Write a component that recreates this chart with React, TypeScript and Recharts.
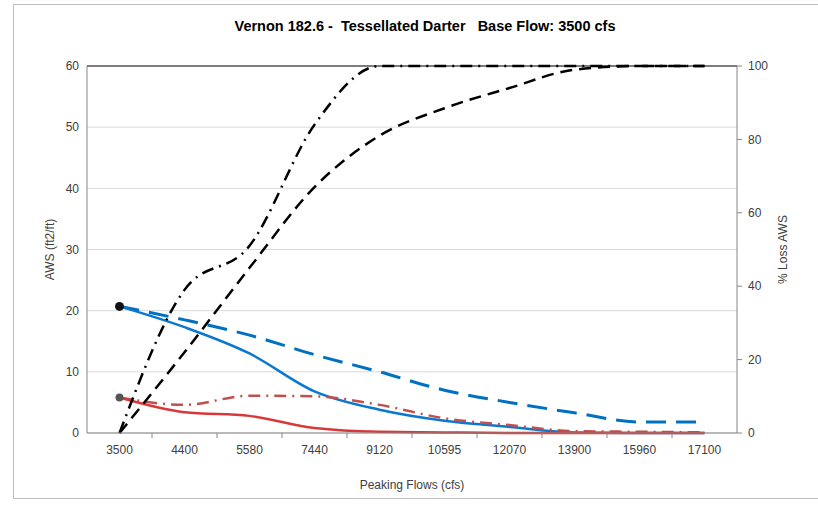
import { LineChart, Line, XAxis, YAxis, CartesianGrid, ReferenceLine } from 'recharts';

const FLOWS = ['3500', '4400', '5580', '7440', '9120', '10595', '12070', '13900', '15960', '17100'];

// AWS (ft2/ft), left axis
const BLUE_SOLID = [20.7, 17.3, 13.0, 6.8, 3.8, 2.0, 1.0, 0.1, 0, 0];
const BLUE_DASHED = [20.7, 18.5, 16.0, 12.8, 10.0, 7.0, 5.0, 3.3, 1.8, 1.8];
const RED_SOLID = [5.8, 3.4, 2.8, 0.8, 0.2, 0.1, 0, 0, 0, 0];
const RED_DASHDOT = [5.8, 4.6, 6.1, 6.0, 4.6, 2.4, 1.3, 0.3, 0.2, 0.1];

// % loss AWS, right axis
const BLACK_DASHED = [0, 22, 45, 67, 81, 88.5, 94, 99, 100, 100];
const BLACK_DASHDOT = [0, 39, 51, 84, 100, 100, 100, 100, 100, 100];

const LEFT_TICKS = [0, 10, 20, 30, 40, 50, 60];
const RIGHT_TICKS = [0, 20, 40, 60, 80, 100];

const data = FLOWS.map((flow, i) => ({
  flow,
  blueSolid: BLUE_SOLID[i],
  blueDashed: BLUE_DASHED[i],
  redSolid: RED_SOLID[i],
  redDashDot: RED_DASHDOT[i],
  blackDashed: BLACK_DASHED[i],
  blackDashDot: BLACK_DASHDOT[i],
}));

const FONT = '"Liberation Sans", Arial, sans-serif';
const TICK = { fill: '#404040', fontSize: 12, fontFamily: FONT };

const firstDot = (fill: string, r: number) => (props: any) => {
  const { cx, cy, index } = props;
  if (index !== 0) return <g key={`d${index}`} />;
  return <circle key={`d${index}`} cx={cx} cy={cy} r={r} fill={fill} stroke="none" />;
};

// category label plus Excel-style tick mark between categories
function FlowTick(props: any) {
  const { x, y, payload, index } = props;
  return (
    <g>
      <text x={x} y={y} dy="0.71em" textAnchor="middle" {...TICK}>
        {payload.value}
      </text>
      {index < FLOWS.length - 1 && (
        <line x1={x + 32.5} x2={x + 32.5} y1={y - 12} y2={y - 7} stroke="#868686" />
      )}
    </g>
  );
}

export default function App() {
  return (
    <div style={{ position: 'absolute', left: 0, top: 0, width: 818, height: 506, background: '#fff', fontFamily: FONT }}>
      <div
        style={{
          position: 'absolute',
          left: 13,
          top: 4,
          width: 810,
          height: 495,
          border: '1px solid #bfbfbf',
          boxSizing: 'border-box',
        }}
      />
      <div
        style={{
          position: 'absolute',
          left: 0,
          top: 18,
          width: 850,
          textAlign: 'center',
          fontWeight: 'bold',
          fontSize: 14.5,
          color: '#000',
          whiteSpace: 'pre',
        }}
      >
        {'Vernon 182.6 -  Tessellated Darter   Base Flow: 3500 cfs'}
      </div>
      <LineChart width={818} height={506} data={data} margin={{ top: 66, right: 0, bottom: 0, left: 0 }}>
        <CartesianGrid yAxisId="aws" vertical={false} stroke="#d9d9d9" />
        <XAxis
          dataKey="flow"
          padding={{ left: 32.5, right: 32.5 }}
          height={73}
          stroke="#868686"
          tickLine={false}
          tickSize={6}
          tickMargin={6}
          interval={0}
          tick={<FlowTick />}
          label={{ value: 'Peaking Flows (cfs)', position: 'insideBottom', offset: 17, fill: '#404040', fontSize: 12, fontFamily: FONT }}
        />
        <YAxis
          yAxisId="aws"
          width={87}
          domain={[0, 60]}
          ticks={LEFT_TICKS}
          stroke="#868686"
          tickLine={false}
          tick={TICK}
          label={{ value: 'AWS (ft2/ft)', angle: -90, position: 'insideLeft', offset: 50, fill: '#404040', fontSize: 12, fontFamily: FONT, style: { textAnchor: 'middle' } }}
        />
        <YAxis
          yAxisId="loss"
          orientation="right"
          width={81}
          domain={[0, 100]}
          ticks={RIGHT_TICKS}
          stroke="#868686"
          tickSize={5}
          tickMargin={6}
          tick={TICK}
          label={{ value: '% Loss AWS', angle: -90, position: 'insideRight', offset: 35, fill: '#404040', fontSize: 12, fontFamily: FONT, style: { textAnchor: 'middle' } }}
        />
        <ReferenceLine yAxisId="aws" y={60} stroke="#595959" strokeWidth={1.5} />
        <Line yAxisId="aws" type="monotone" dataKey="blueDashed" stroke="#0070c0" strokeWidth={3} strokeDasharray="20 10" dot={false} isAnimationActive={false} />
        <Line yAxisId="aws" type="monotone" dataKey="blueSolid" stroke="#0a78d0" strokeWidth={2.5} dot={firstDot('#111', 4.5)} activeDot={false} isAnimationActive={false} />
        <Line yAxisId="aws" type="monotone" dataKey="redDashDot" stroke="#c0504d" strokeWidth={2.5} strokeDasharray="12 6 2 6" dot={false} isAnimationActive={false} />
        <Line yAxisId="aws" type="monotone" dataKey="redSolid" stroke="#d9383a" strokeWidth={2.5} dot={firstDot('#555', 4)} activeDot={false} isAnimationActive={false} />
        <Line yAxisId="loss" type="monotone" dataKey="blackDashed" stroke="#000" strokeWidth={2.5} strokeDasharray="12 7" dot={false} isAnimationActive={false} />
        <Line yAxisId="loss" type="monotone" dataKey="blackDashDot" stroke="#000" strokeWidth={2.5} strokeDasharray="12 6 2 6" dot={false} isAnimationActive={false} />
      </LineChart>
    </div>
  );
}
